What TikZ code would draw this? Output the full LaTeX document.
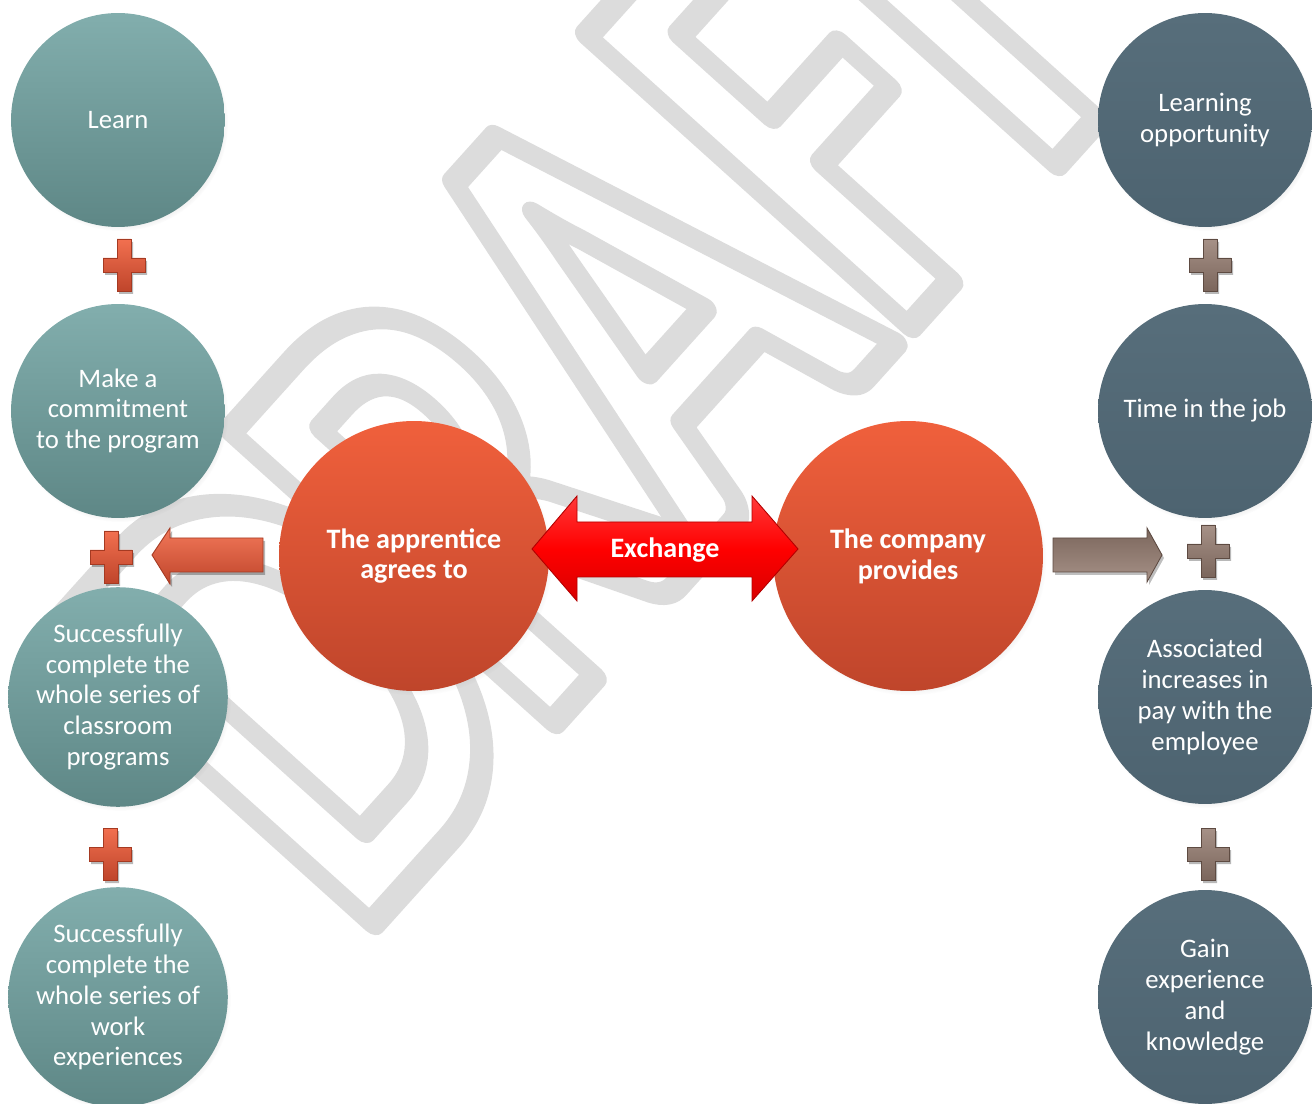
\documentclass[tikz,border=0pt]{standalone}
\usepackage{fontspec}
\usepackage{graphicx}
\setmainfont{Carlito}
\usetikzlibrary{shadows}

\definecolor{tealtop}{HTML}{82AEAD}
\definecolor{tealbot}{HTML}{5E8786}
\definecolor{slatetop}{HTML}{576E7B}
\definecolor{slatebot}{HTML}{4D6370}
\definecolor{orgtop}{HTML}{F0603C}
\definecolor{orgbot}{HTML}{BF452B}
\definecolor{orgedge}{HTML}{A53A22}
\definecolor{taupetop}{HTML}{7B665C}
\definecolor{taupebot}{HTML}{A69187}
\definecolor{taupeedge}{HTML}{5E4B42}
\definecolor{redtop}{HTML}{FF3A3A}
\definecolor{redbot}{HTML}{D80000}
\definecolor{wmark}{HTML}{DCDCDC}

% hollow (stroked) lettering for the watermark
\newcommand\hollowtext[2]{\special{pdf:literal direct 1 Tr #1 w 1 j 1 J}#2\special{pdf:literal direct 0 Tr}}
\newcommand\wmglyph[1]{\scalebox{0.72}[1]{\hollowtext{15}{#1}}}
\newcommand\wmfont{\fontsize{382}{382}\selectfont\bfseries}
\newcommand\bubblefont{\fontsize{15.2}{17.6}\selectfont}
\newcommand\hubfont{\fontsize{16}{17.6}\selectfont\bfseries}

% plus sign centred at (#1,#2)
\newcommand\plussign[3]{%
  \fill[black,opacity=.28] (#1+2,#2+3) ++(-7,-26) -- ++(14,0) -- ++(0,19) -- ++(14,0) -- ++(0,14) -- ++(-14,0) -- ++(0,19) -- ++(-14,0) -- ++(0,-19) -- ++(-14,0) -- ++(0,-14) -- ++(14,0) -- cycle;
  \path[#3] (#1,#2) ++(-7,-26) -- ++(14,0) -- ++(0,19) -- ++(14,0) -- ++(0,14) -- ++(-14,0) -- ++(0,19) -- ++(-14,0) -- ++(0,-19) -- ++(-14,0) -- ++(0,-14) -- ++(14,0) -- cycle;}

\tikzset{
  bubble/.style={circle, minimum size=4.28cm, inner sep=0pt, text=white,
    align=center, font=\bubblefont},
  learner/.style={bubble, top color=tealtop, bottom color=tealbot,
    circular drop shadow={shadow xshift=.04cm, shadow yshift=-.06cm, shadow scale=1.01, opacity=.3}},
  employer/.style={bubble, top color=slatetop, bottom color=slatebot,
    circular drop shadow={shadow xshift=.04cm, shadow yshift=-.06cm, shadow scale=1.01, opacity=.3}},
  hub/.style={circle, minimum size=5.4cm, inner sep=0pt, text=white,
    align=center, font=\hubfont, top color=orgtop, bottom color=orgbot,
    circular drop shadow={shadow xshift=.04cm, shadow yshift=-.06cm, shadow scale=1.01, opacity=.3}},
  orangeplus/.style={top color=orgtop!90!white, bottom color=orgbot, draw=orgedge, line width=.5pt},
  taupeplus/.style={top color=taupebot, bottom color=taupetop, draw=taupeedge, line width=.5pt},
  wmletter/.style={anchor=base west, inner sep=0pt, text=wmark, font=\wmfont},
}

\begin{document}
\begin{tikzpicture}[x=0.02cm, y=-0.02cm]
\useasboundingbox (0,0) rectangle (1312,1104);

% watermark, set letter by letter along a slanted baseline
\begin{scope}[rotate=48, transform shape]
  \node[wmletter] (wmD) at (-465,895) {\wmglyph{D}};
  \node[wmletter] (wmR) at (-195,895) {\wmglyph{R}};
  \node[wmletter] (wmA) at (52,895)   {\wmglyph{A}};
  \node[wmletter] (wmF) at (340,895)  {\wmglyph{F}};
  \node[wmletter] (wmT) at (495,895)  {\wmglyph{T}};
\end{scope}

% learner side
\node[learner] (learn) at (118,120) {Learn};
\node[learner] (commit) at (118,411) {Make a\\commitment\\to the program};
\node[learner] (classes) at (118,697) {Successfully\\complete the\\whole series of\\classroom\\programs};
\node[learner] (work) at (118,997) {Successfully\\complete the\\whole series of\\work\\experiences};

% employer side
\node[employer] (opport) at (1205,120) {Learning\\opportunity};
\node[employer] (time) at (1205,411) {Time in the job};
\node[employer] (pay) at (1205,697) {Associated\\increases in\\pay with the\\employee};
\node[employer] (gain) at (1205,997) {Gain\\experience\\and\\knowledge};

% the two parties
\node[hub] (apprentice) at (414,556) {The apprentice\\agrees to};
\node[hub] (company) at (908,556) {The company\\provides};

% plus signs
\plussign{124}{265}{orangeplus}
\plussign{111}{557}{orangeplus}
\plussign{110}{854}{orangeplus}
\plussign{1210}{265}{taupeplus}
\plussign{1208}{551}{taupeplus}
\plussign{1208}{854}{taupeplus}

% arrow from the apprentice towards the learner list
\fill[black,opacity=.28] (154,558) -- (172,531) -- (172,541) -- (265,541) -- (265,575) -- (172,575) -- (172,587) -- cycle;
\path[top color=orgtop!85!white, bottom color=orgbot, draw=orgedge, line width=.5pt]
  (152,555) -- (170,528) -- (170,538) -- (263,538) -- (263,572) -- (170,572) -- (170,584) -- cycle;

% exchange arrow
\path[top color=redtop, bottom color=redbot, middle color=red, draw=red!70!black, line width=.5pt]
  (532,549) -- (577,496) -- (577,522) -- (752,522) -- (752,496) -- (798,549) -- (752,601) -- (752,577) -- (577,577) -- (577,601) -- cycle;
\node[text=white, font=\hubfont, inner sep=0pt] (exch) at (665,550) {Exchange};

% arrow from the company towards the employer list
\fill[black,opacity=.25] (1055,541) -- (1149,541) -- (1149,531) -- (1164,558) -- (1149,585) -- (1149,575) -- (1055,575) -- cycle;
\path[top color=taupetop, bottom color=taupebot, draw=taupeedge, line width=.5pt]
  (1053,538) -- (1147,538) -- (1147,528) -- (1162,555) -- (1147,582) -- (1147,572) -- (1053,572) -- cycle;
\end{tikzpicture}
\end{document}
